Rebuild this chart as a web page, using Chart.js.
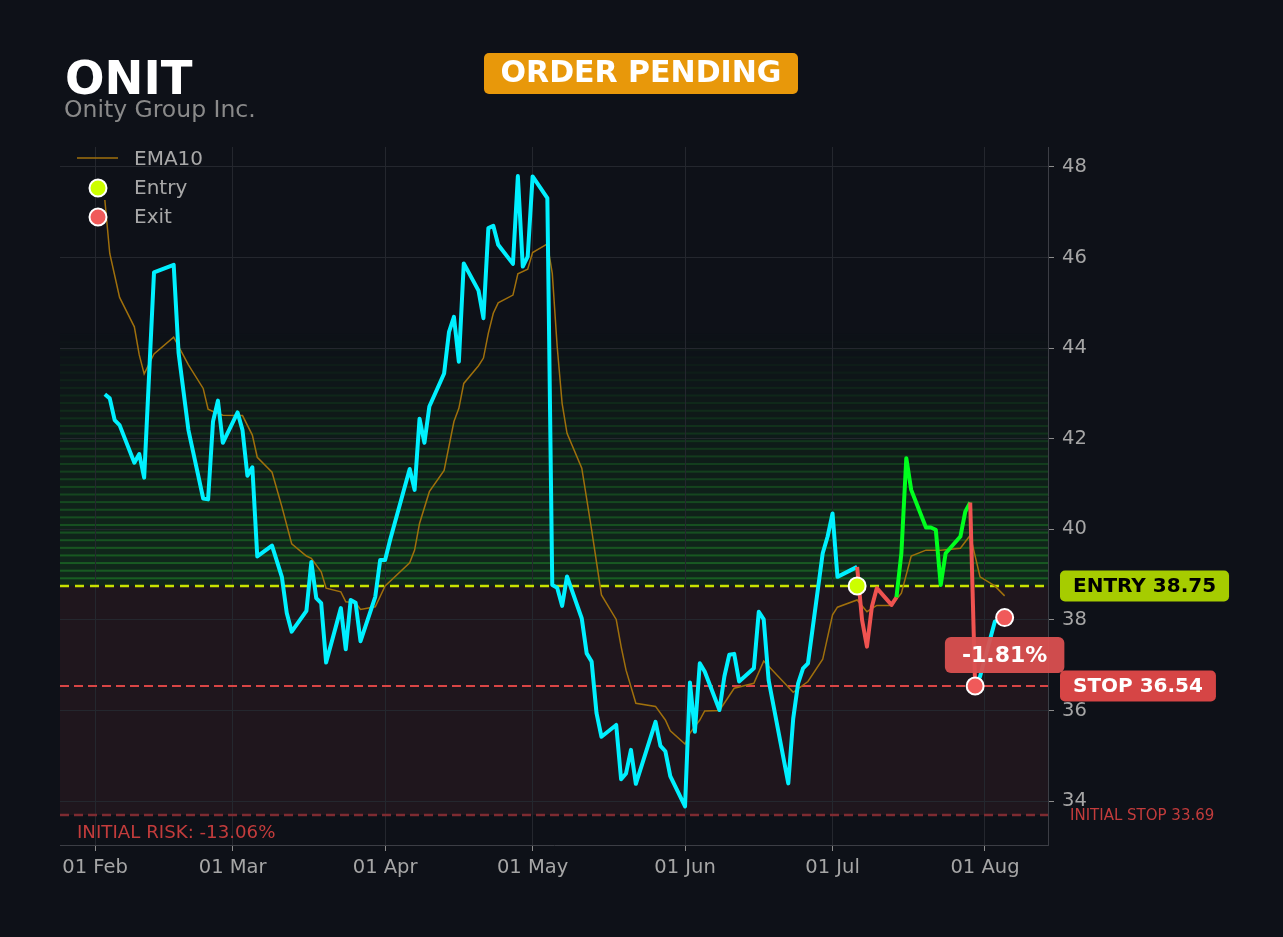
<!DOCTYPE html>
<html>
<head>
<meta charset="utf-8">
<title>ONIT</title>
<script src="https://cdn.jsdelivr.net/npm/chart.js@4.4.1/dist/chart.umd.min.js"></script>
<style>
    html, body { margin: 0; padding: 0; background: #0e1118; }
    #wrap { position: relative; width: 1283px; height: 937px; }
</style>
</head>
<body>
<div id="wrap"><canvas id="chart"></canvas></div>
<script>
const priceDates = [
    '2026-02-03', '2026-02-04', '2026-02-05', '2026-02-06', '2026-02-09', '2026-02-10', '2026-02-11', '2026-02-13',
    '2026-02-17', '2026-02-18', '2026-02-20', '2026-02-23', '2026-02-24', '2026-02-25', '2026-02-26', '2026-02-27',
    '2026-03-02', '2026-03-03', '2026-03-04', '2026-03-05', '2026-03-06', '2026-03-09', '2026-03-11', '2026-03-12',
    '2026-03-13', '2026-03-16', '2026-03-17', '2026-03-18', '2026-03-19', '2026-03-20', '2026-03-23', '2026-03-24',
    '2026-03-25', '2026-03-26', '2026-03-27', '2026-03-30', '2026-03-31', '2026-04-01', '2026-04-02', '2026-04-06',
    '2026-04-07', '2026-04-08', '2026-04-09', '2026-04-10', '2026-04-13', '2026-04-14', '2026-04-15', '2026-04-16',
    '2026-04-17', '2026-04-20', '2026-04-21', '2026-04-22', '2026-04-23', '2026-04-24', '2026-04-27', '2026-04-28',
    '2026-04-29', '2026-04-30', '2026-05-01', '2026-05-04', '2026-05-05', '2026-05-06', '2026-05-07', '2026-05-08',
    '2026-05-11', '2026-05-12', '2026-05-13', '2026-05-14', '2026-05-15', '2026-05-18', '2026-05-19', '2026-05-20',
    '2026-05-21', '2026-05-22', '2026-05-26', '2026-05-27', '2026-05-28', '2026-05-29', '2026-06-01', '2026-06-02',
    '2026-06-03', '2026-06-04', '2026-06-05', '2026-06-08', '2026-06-09', '2026-06-10', '2026-06-11', '2026-06-12',
    '2026-06-15', '2026-06-16', '2026-06-17', '2026-06-18', '2026-06-22', '2026-06-23', '2026-06-24', '2026-06-25',
    '2026-06-26', '2026-06-29', '2026-06-30', '2026-07-01', '2026-07-02', '2026-07-06', '2026-07-07', '2026-07-08',
    '2026-07-09', '2026-07-10', '2026-07-13', '2026-07-14', '2026-07-15', '2026-07-16', '2026-07-17', '2026-07-20',
    '2026-07-21', '2026-07-22', '2026-07-23', '2026-07-24', '2026-07-27', '2026-07-28', '2026-07-29', '2026-07-30',
    '2026-07-31', '2026-08-03', '2026-08-05'
];
const priceClose = [
    42.98, 42.89, 42.41, 42.30, 41.47, 41.66, 41.14, 45.67,
    45.84, 43.89, 42.19, 40.68, 40.66, 42.38, 42.84, 41.91,
    42.58, 42.19, 41.18, 41.37, 39.40, 39.64, 38.95, 38.15,
    37.74, 38.20, 39.28, 38.48, 38.37, 37.06, 38.26, 37.35,
    38.44, 38.38, 37.53, 38.51, 39.32, 39.32, 39.76, 41.33,
    40.87, 42.44, 41.91, 42.71, 43.44, 44.36, 44.69, 43.70,
    45.87, 45.27, 44.66, 46.65, 46.70, 46.28, 45.86, 47.80,
    45.80, 46.02, 47.79, 47.31, 38.77, 38.71, 38.31, 38.96,
    38.03, 37.26, 37.08, 35.94, 35.42, 35.68, 34.48, 34.61,
    35.13, 34.38, 35.75, 35.22, 35.10, 34.55, 33.88, 36.62,
    35.53, 37.04, 36.86, 36.01, 36.75, 37.23, 37.25, 36.64,
    36.93, 38.18, 38.01, 36.67, 34.39, 35.82, 36.60, 36.93,
    37.04, 39.47, 39.84, 40.35, 38.95, 39.17, 38.00, 37.41,
    38.29, 38.70, 38.33, 38.50, 39.47, 41.57, 40.87, 40.04,
    40.04, 39.99, 38.77, 39.47, 39.84, 40.39, 40.59, 36.54,
    36.75, 37.96, 38.05
];

const emaDates = [
    '2026-02-03', '2026-02-04', '2026-02-06', '2026-02-09', '2026-02-10', '2026-02-11', '2026-02-13', '2026-02-17',
    '2026-02-20', '2026-02-23', '2026-02-24', '2026-02-25', '2026-02-27', '2026-03-03', '2026-03-05', '2026-03-06',
    '2026-03-09', '2026-03-11', '2026-03-13', '2026-03-16', '2026-03-17', '2026-03-19', '2026-03-20', '2026-03-23',
    '2026-03-24', '2026-03-26', '2026-03-27', '2026-03-30', '2026-04-01', '2026-04-06', '2026-04-07', '2026-04-08',
    '2026-04-10', '2026-04-13', '2026-04-15', '2026-04-16', '2026-04-17', '2026-04-20', '2026-04-21', '2026-04-22',
    '2026-04-23', '2026-04-24', '2026-04-27', '2026-04-28', '2026-04-30', '2026-05-01', '2026-05-04', '2026-05-05',
    '2026-05-06', '2026-05-07', '2026-05-08', '2026-05-11', '2026-05-13', '2026-05-15', '2026-05-18', '2026-05-19',
    '2026-05-20', '2026-05-22', '2026-05-26', '2026-05-28', '2026-05-29', '2026-06-01', '2026-06-02', '2026-06-04',
    '2026-06-05', '2026-06-08', '2026-06-11', '2026-06-15', '2026-06-17', '2026-06-23', '2026-06-26', '2026-06-29',
    '2026-07-01', '2026-07-02', '2026-07-06', '2026-07-08', '2026-07-10', '2026-07-13', '2026-07-15', '2026-07-17',
    '2026-07-20', '2026-07-23', '2026-07-27', '2026-07-29', '2026-07-31', '2026-08-03', '2026-08-05'
];
const emaValues = [
    47.27, 46.09, 45.12, 44.47, 43.85, 43.43, 43.87, 44.24,
    43.63, 43.11, 42.65, 42.60, 42.52, 42.51, 42.08, 41.59,
    41.26, 40.50, 39.68, 39.41, 39.36, 39.06, 38.70, 38.62,
    38.40, 38.38, 38.23, 38.29, 38.75, 39.26, 39.54, 40.13,
    40.83, 41.30, 42.38, 42.67, 43.22, 43.61, 43.78, 44.33,
    44.77, 45.00, 45.17, 45.64, 45.74, 46.11, 46.30, 45.65,
    44.03, 42.78, 42.12, 41.35, 39.99, 38.55, 38.01, 37.41,
    36.89, 36.16, 36.09, 35.79, 35.55, 35.26, 35.50, 35.79,
    35.99, 36.00, 36.49, 36.60, 37.09, 36.40, 36.64, 37.13,
    38.11, 38.28, 38.44, 38.18, 38.32, 38.32, 38.59, 39.41,
    39.54, 39.54, 39.58, 39.87, 38.95, 38.75, 38.53
];

const entryDate = '2026-07-06';
const entryPrice = 38.75;
const exitDates = ['2026-07-30', '2026-08-05'];
const exitPrices = [36.54, 38.05];
const stopPrice = 36.54;
const initialStop = 33.69;
const tradeReturn = '-1.81%';
const initialRisk = '-13.06%';

const yTicks = [34, 36, 38, 40, 42, 44, 46, 48];
const monthTicks = ['2026-02-01', '2026-03-01', '2026-04-01', '2026-05-01', '2026-06-01', '2026-07-01', '2026-08-01'];
const monthLabels = ['01 Feb', '01 Mar', '01 Apr', '01 May', '01 Jun', '01 Jul', '01 Aug'];

const FONT = "'DejaVu Sans', 'Noto Sans', sans-serif";
const CYAN = '#00f0ff';
const GREEN = '#00ff1e';
const RED = '#ef5350';

// day number since 1 Jan, used as the linear x value
function dayNum(s) {
    const [y, m, d] = s.split('-').map(Number);
    return (Date.UTC(y, m - 1, d) - Date.UTC(y, 0, 1)) / 86400000;
}

const entryIdx = priceDates.indexOf(entryDate);
const exitIdx = priceDates.indexOf(exitDates[0]);

const priceData = priceDates.map((d, i) => ({ x: dayNum(d), y: priceClose[i] }));
const emaData = emaDates.map((d, i) => ({ x: dayNum(d), y: emaValues[i] }));

function roundBox(ctx, x, y, w, h, r, color) {
    ctx.fillStyle = color;
    ctx.beginPath();
    ctx.roundRect(x, y, w, h, r);
    ctx.fill();
}

const zones = {
    id: 'zones',
    beforeDraw(chart) {
        const { ctx, chartArea: a, scales: { y } } = chart;
        ctx.save();
        const yE = y.getPixelForValue(entryPrice);
        const yI = y.getPixelForValue(initialStop);
        ctx.fillStyle = '#1f161d';
        ctx.fillRect(a.left, yE, a.width, yI - yE);

        // fading green stripes above the entry
        const n = 33, top = 44.3;
        const step = (top - entryPrice) / n;
        for (let i = 0; i < n; i++) {
            const f = 1 - i / n;
            const p0 = y.getPixelForValue(entryPrice + i * step);
            const p1 = y.getPixelForValue(entryPrice + (i + 1) * step);
            ctx.fillStyle = `rgba(30,150,40,${0.18 * f})`;
            ctx.fillRect(a.left, p1, a.width, p0 - p1);
            ctx.fillStyle = `rgba(40,175,50,${0.42 * f})`;
            ctx.fillRect(a.left, p1 - 1, a.width, 2);
        }
        ctx.restore();
    },
    beforeDatasetsDraw(chart) {
        const { ctx, chartArea: a, scales: { y } } = chart;
        const hline = (v, color, w, dash) => {
            const py = y.getPixelForValue(v);
            ctx.save();
            ctx.strokeStyle = color;
            ctx.lineWidth = w;
            ctx.setLineDash(dash);
            ctx.beginPath();
            ctx.moveTo(a.left, py);
            ctx.lineTo(a.right, py);
            ctx.stroke();
            ctx.restore();
        };
        hline(initialStop, '#7e2b31', 2.5, [9, 5]);
        hline(stopPrice, '#d94545', 2.2, [9, 5]);
        hline(entryPrice, '#c6e000', 2.5, [9, 6]);
    },
    afterDraw(chart) {
        const { ctx, chartArea: a, scales: { x, y } } = chart;
        ctx.save();

        // title block
        ctx.textBaseline = 'alphabetic';
        ctx.textAlign = 'left';
        ctx.fillStyle = '#ffffff';
        ctx.font = `bold 46.5px ${FONT}`;
        ctx.fillText('ONIT', 65, 94);
        ctx.fillStyle = '#8a8a8a';
        ctx.font = `23.5px ${FONT}`;
        ctx.fillText('Onity Group Inc.', 64, 117);

        roundBox(ctx, 484, 53, 314, 41, 5, '#e8980a');
        ctx.fillStyle = '#ffffff';
        ctx.font = `bold 30px ${FONT}`;
        ctx.textAlign = 'center';
        ctx.textBaseline = 'middle';
        ctx.fillText('ORDER PENDING', 641, 74);

        // legend
        ctx.textAlign = 'left';
        ctx.textBaseline = 'alphabetic';
        ctx.strokeStyle = '#a0700c';
        ctx.lineWidth = 1.6;
        ctx.beginPath();
        ctx.moveTo(77, 158);
        ctx.lineTo(118, 158);
        ctx.stroke();
        const dot = (cx, cy, color) => {
            ctx.beginPath();
            ctx.arc(cx, cy, 8.5, 0, Math.PI * 2);
            ctx.fillStyle = color;
            ctx.fill();
            ctx.lineWidth = 2;
            ctx.strokeStyle = '#ffffff';
            ctx.stroke();
        };
        dot(98, 188, '#ccff00');
        dot(98, 217, '#f05a5a');
        ctx.fillStyle = '#a8a8a8';
        ctx.font = `20px ${FONT}`;
        ctx.fillText('EMA10', 134, 165);
        ctx.fillText('Entry', 134, 194);
        ctx.fillText('Exit', 134, 223);

        // right side price tags
        const tag = (text, v, bg, fg) => {
            const py = y.getPixelForValue(v);
            ctx.font = `bold 20px ${FONT}`;
            const w = ctx.measureText(text).width + 26;
            roundBox(ctx, a.right + 12, py - 15.5, w, 31, 5, bg);
            ctx.fillStyle = fg;
            ctx.textAlign = 'left';
            ctx.textBaseline = 'middle';
            ctx.fillText(text, a.right + 25, py + 1);
        };
        tag('ENTRY ' + entryPrice.toFixed(2), entryPrice, '#a6cc00', '#000000');
        tag('STOP ' + stopPrice.toFixed(2), stopPrice, '#d64545', '#ffffff');

        ctx.fillStyle = '#c33c3c';
        ctx.font = `15px ${FONT}`;
        ctx.textAlign = 'left';
        ctx.textBaseline = 'middle';
        ctx.fillText('INITIAL STOP ' + initialStop.toFixed(2), a.right + 22, y.getPixelForValue(initialStop) + 1);

        ctx.font = `18.2px ${FONT}`;
        ctx.textBaseline = 'alphabetic';
        ctx.fillText('INITIAL RISK: ' + initialRisk, a.left + 17, 838);

        // result badge above the exit
        const bx = x.getPixelForValue(dayNum(exitDates[1]));
        const by = y.getPixelForValue(exitPrices[0]) - 31;
        ctx.font = `bold 22px ${FONT}`;
        const bw = ctx.measureText(tradeReturn).width + 34;
        ctx.globalAlpha = 0.95;
        roundBox(ctx, bx - bw / 2, by - 18, bw, 36, 6, '#da5050');
        ctx.globalAlpha = 1;
        ctx.fillStyle = '#ffffff';
        ctx.textAlign = 'center';
        ctx.textBaseline = 'middle';
        ctx.fillText(tradeReturn, bx, by + 1);

        ctx.restore();
    }
};

const ctx = document.getElementById('chart').getContext('2d');

new Chart(ctx, {
    type: 'line',
    data: {
        datasets: [
            {
                label: 'EMA10',
                data: emaData,
                borderColor: '#a0700c',
                borderWidth: 1.5,
                pointRadius: 0,
                order: 3,
            },
            {
                label: 'Close',
                data: priceData,
                borderColor: CYAN,
                borderWidth: 4,
                borderJoinStyle: 'round',
                pointRadius: 0,
                order: 2,
                segment: {
                    borderColor: c => {
                        const i = c.p0DataIndex;
                        if (i >= entryIdx && i < exitIdx) {
                            return c.p1.parsed.y >= entryPrice ? GREEN : RED;
                        }
                        return CYAN;
                    },
                },
            },
            {
                label: 'Entry',
                data: [{ x: dayNum(entryDate), y: entryPrice }],
                showLine: false,
                pointRadius: 8.5,
                pointBorderWidth: 2,
                pointBackgroundColor: '#ccff00',
                pointBorderColor: '#ffffff',
                order: 1,
            },
            {
                label: 'Exit',
                data: exitDates.map((d, i) => ({ x: dayNum(d), y: exitPrices[i] })),
                showLine: false,
                pointRadius: 8.5,
                pointBorderWidth: 2,
                pointBackgroundColor: '#f05a5a',
                pointBorderColor: '#ffffff',
                order: 1,
            },
        ],
    },
    options: {
        responsive: true,
        maintainAspectRatio: false,
        animation: false,
        events: [],
        layout: { padding: { left: 60, top: 147, right: 0, bottom: 0 } },
        plugins: {
            legend: { display: false },
            tooltip: { enabled: false },
        },
        scales: {
            x: {
                type: 'linear',
                min: 23.88,
                max: 224.82,
                afterBuildTicks: scale => {
                    scale.ticks = monthTicks.map(d => ({ value: dayNum(d) }));
                },
                afterFit: scale => { scale.height = 92; },
                ticks: {
                    callback: (v, i) => monthLabels[i],
                    color: '#a6a6a6',
                    font: { family: FONT, size: 19.5 },
                    padding: 5,
                    autoSkip: false,
                    maxRotation: 0,
                },
                grid: {
                    color: '#24272e',
                    tickColor: '#8c8c8c',
                    tickLength: 6,
                },
                border: { display: true, color: '#3c3e45' },
            },
            y: {
                position: 'right',
                min: 33.03,
                max: 48.44,
                afterBuildTicks: scale => {
                    scale.ticks = yTicks.map(v => ({ value: v }));
                },
                afterFit: scale => { scale.width = 235; },
                ticks: {
                    callback: v => String(v),
                    color: '#a6a6a6',
                    font: { family: FONT, size: 19.5 },
                    padding: 8,
                },
                grid: {
                    color: '#24272e',
                    tickColor: '#8c8c8c',
                    tickLength: 6,
                },
                border: { display: true, color: '#3c3e45' },
            },
        },
    },
    plugins: [zones],
});
</script>
</body>
</html>
